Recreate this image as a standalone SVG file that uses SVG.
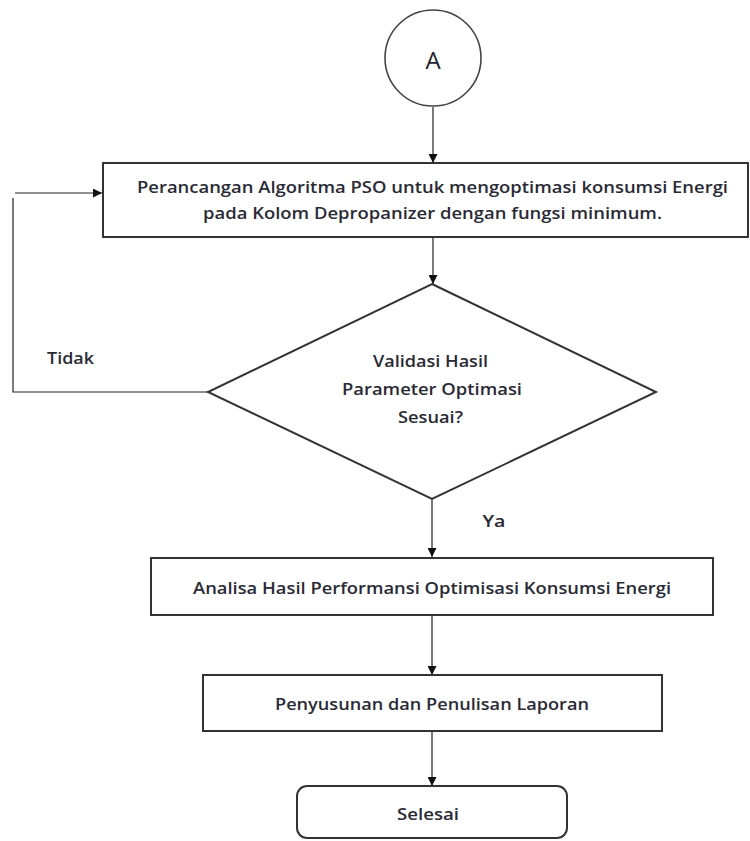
<svg xmlns="http://www.w3.org/2000/svg" width="750" height="841" viewBox="0 0 750 841">
  <defs>
    <marker id="arrow" viewBox="0 0 10 10" refX="10" refY="5" markerWidth="9" markerHeight="9" markerUnits="userSpaceOnUse" orient="auto">
      <path d="M0,0 L10,5 L0,10 z" fill="#111"/>
    </marker>
    <style>
      .box { fill: #fff; stroke: #333; stroke-width: 2; }
      .circ { fill: #fff; stroke: #444; stroke-width: 1.6; }
      .conn { fill: none; stroke: #222; stroke-width: 1.2; }
      .lbl { font-family: "Open Sans", "Liberation Sans", sans-serif; font-size: 16.5px; font-weight: 600; fill: #2a2a36; text-anchor: middle; }
      .big { font-family: "Open Sans", "Liberation Sans", sans-serif; font-size: 24px; font-weight: 400; fill: #22222e; text-anchor: middle; }
    </style>
  </defs>

  <rect width="750" height="841" fill="#fff"/>

  <!-- connectors -->
  <g id="connectors">
    <line class="conn" x1="433" y1="107" x2="433" y2="163" marker-end="url(#arrow)"/>
    <line class="conn" x1="433" y1="237" x2="433" y2="284" marker-end="url(#arrow)"/>
    <line class="conn" x1="432" y1="499" x2="432" y2="557" marker-end="url(#arrow)"/>
    <line class="conn" x1="432" y1="616" x2="432" y2="675" marker-end="url(#arrow)"/>
    <line class="conn" x1="432" y1="731" x2="432" y2="786" marker-end="url(#arrow)"/>
    <!-- "Tidak" loop back to the design step -->
    <polyline class="conn" points="208,392 13,392 13,198" stroke-width="1.6"/>
    <line class="conn" x1="15" y1="193" x2="102" y2="193" marker-end="url(#arrow)"/>
    <text class="lbl" x="70.5" y="364" textLength="47" lengthAdjust="spacingAndGlyphs">Tidak</text>
    <text class="lbl" x="494" y="527" textLength="23" lengthAdjust="spacingAndGlyphs">Ya</text>
  </g>

  <!-- connector A -->
  <g id="node-a">
    <circle class="circ" cx="433" cy="58" r="48"/>
    <text class="big" x="433" y="69">A</text>
  </g>

  <!-- PSO design step -->
  <g id="node-design">
    <rect class="box" x="103" y="163" width="645" height="74"/>
    <text class="lbl" x="432.5" y="193" textLength="591" lengthAdjust="spacingAndGlyphs">Perancangan Algoritma PSO untuk mengoptimasi konsumsi Energi</text>
    <text class="lbl" x="432.5" y="219" textLength="459" lengthAdjust="spacingAndGlyphs">pada Kolom Depropanizer dengan fungsi minimum.</text>
  </g>

  <!-- validation decision -->
  <g id="node-validate">
    <polygon class="box" points="432,284 656,392 432,499 208,392" stroke-width="1.8"/>
    <text class="lbl" x="430.5" y="367" textLength="115" lengthAdjust="spacingAndGlyphs">Validasi Hasil</text>
    <text class="lbl" x="432" y="395" textLength="180" lengthAdjust="spacingAndGlyphs">Parameter Optimasi</text>
    <text class="lbl" x="430.5" y="423" textLength="65" lengthAdjust="spacingAndGlyphs">Sesuai?</text>
  </g>

  <!-- performance analysis -->
  <g id="node-analysis">
    <rect class="box" x="151" y="558" width="562" height="57"/>
    <text class="lbl" x="432" y="594" textLength="478" lengthAdjust="spacingAndGlyphs">Analisa Hasil Performansi Optimisasi Konsumsi Energi</text>
  </g>

  <!-- report writing -->
  <g id="node-report">
    <rect class="box" x="203" y="675" width="459" height="56"/>
    <text class="lbl" x="432" y="710" textLength="314" lengthAdjust="spacingAndGlyphs">Penyusunan dan Penulisan Laporan</text>
  </g>

  <!-- end -->
  <g id="node-end">
    <rect class="box" x="297" y="786" width="270" height="52" rx="10" ry="10" stroke-width="1.8"/>
    <text class="lbl" x="428" y="820" textLength="62" lengthAdjust="spacingAndGlyphs">Selesai</text>
  </g>
</svg>
